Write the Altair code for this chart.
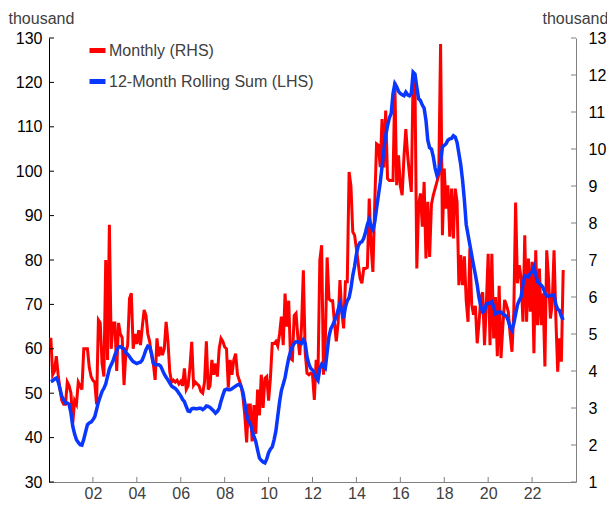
import altair as alt
import pandas as pd

# Monthly values (RHS, thousand), Feb 2000 - Jun 2023
monthly_rhs = [
    4.9, 3.9, 4.0, 4.4, 3.9, 3.5, 3.2, 3.1, 3.1, 3.7, 3.6,                  # 2000 (Feb-Dec)
    3.4, 2.6, 3.2, 3.1, 3.7, 3.6, 3.5, 4.6, 4.6, 4.6, 4.1, 3.85,            # 2001
    3.75, 3.7, 3.1, 5.38, 5.3, 4.2, 3.85, 7.0, 4.3, 7.95, 4.6, 5.3,         # 2002
    5.3, 4.0, 5.3, 5.0, 4.9, 3.62, 4.5, 4.7, 5.96, 6.1, 4.6, 5.0,           # 2003
    4.73, 5.1, 4.7, 5.2, 5.65, 5.5, 5.0, 4.8, 4.43, 4.2, 3.76, 4.88,        # 2004
    4.4, 4.65, 4.43, 4.6, 5.33, 4.8, 3.98, 3.7, 3.75, 3.7, 3.75, 3.65,      # 2005
    3.72, 3.6, 4.07, 3.5, 3.6, 4.1, 4.79, 3.62, 3.7, 3.65, 3.6, 3.45,       # 2006
    3.4, 3.7, 4.8, 3.5, 3.6, 4.3, 3.9, 4.2, 3.85, 4.6, 4.88, 4.8,           # 2007
    4.65, 4.6, 3.55, 4.3, 3.9, 4.3, 4.47, 3.9, 3.75, 3.6, 3.3, 2.8,         # 2008
    2.07, 3.08, 3.08, 2.1, 3.08, 2.3, 3.5, 2.8, 3.9, 3.0, 3.8, 3.85,        # 2009
    3.2, 3.8, 4.74, 4.74, 4.8, 4.68, 5.0, 5.47, 4.7, 6.09, 5.2, 5.9,        # 2010
    4.34, 4.3, 5.5, 5.56, 4.9, 4.43, 5.2, 6.72, 4.5, 3.94, 3.9, 3.94,       # 2011
    3.9, 3.22, 4.3, 3.9, 7.0, 7.4, 3.9, 4.8, 7.07, 5.95, 5.9, 5.9,          # 2012
    5.3, 4.8, 5.3, 6.46, 5.6, 5.15, 6.41, 6.41, 9.38, 9.0, 7.76, 7.67,      # 2013
    7.3, 6.9, 6.5, 6.37, 6.77, 6.77, 6.8, 8.66, 7.4, 6.68, 8.5, 10.14,      # 2014
    10.1, 9.51, 10.81, 9.5, 11.04, 9.2, 9.15, 9.15, 9.15, 11.8, 9.02, 9.83, # 2015
    9.0, 8.75, 9.8, 10.54, 9.83, 9.3, 8.84, 12.03, 11.8, 6.77, 8.5, 8.8,    # 2016
    7.9, 9.11, 7.04, 8.57, 7.08, 8.5, 8.75, 8.93, 9.11, 9.3, 12.84, 7.67,   # 2017
    9.47, 8.39, 9.02, 7.63, 8.93, 7.58, 8.93, 8.57, 6.32, 7.13, 6.32, 7.1,  # 2018
    5.9, 5.33, 7.31, 5.8, 5.52, 5.76, 4.75, 5.3, 6.0, 6.13, 4.7, 5.8,       # 2019
    7.17, 4.7, 7.17, 4.88, 6.0, 4.4, 6.3, 4.35, 5.2, 5.92, 5.78, 5.6,       # 2020
    5.0, 4.52, 5.6, 8.55, 6.37, 6.86, 6.5, 5.33, 7.67, 5.33, 7.04, 5.6,     # 2021
    6.95, 4.48, 7.26, 5.24, 6.77, 5.24, 6.1, 4.12, 7.26, 6.5, 5.42, 5.8,    # 2022
    7.26, 5.42, 3.98, 4.88, 4.25, 6.73,                                     # 2023 (Jan-Jun)
]

# 12-month rolling sum (LHS, thousand), Feb 2000 - Jun 2023
rolling_lhs = [
    52.6, 52.8, 53.2, 53.4, 52.6, 51.0, 49.3, 48.5, 47.8, 47.8, 47.5,
    45.5, 42.5, 40.8, 39.5, 38.9, 38.4, 38.3, 39.6, 41.3, 42.9, 43.3, 43.5,
    44.0, 44.7, 46.3, 48.0, 49.2, 50.4, 51.1, 52.1, 53.8, 55.5, 56.4, 57.3,
    58.6, 59.6, 60.4, 60.5, 60.2, 60.0, 59.1, 58.8, 58.2, 57.6, 57.1, 56.9,
    56.7, 56.9, 57.0, 57.5, 58.6, 59.8, 60.6, 60.4, 59.0, 56.8, 56.4, 56.4,
    56.4, 56.1, 55.2, 54.3, 53.6, 53.0, 52.3, 51.6, 51.3, 51.1, 50.6, 50.0,
    49.4, 48.6, 48.1, 47.0, 46.0, 45.9, 46.5, 46.6, 46.5, 46.5, 46.6, 46.6,
    46.3, 46.6, 47.1, 47.0, 46.8, 46.4, 46.0, 45.5, 45.9, 46.6, 48.2, 49.5,
    50.7, 50.9, 50.8, 50.8, 51.0, 51.3, 51.6, 51.9, 52.0, 51.5, 50.2, 47.8,
    45.2, 43.8, 43.2, 41.6, 40.3, 39.1, 37.2, 35.4, 34.9, 34.5, 34.3, 35.2,
    36.6, 37.4, 37.9, 39.5, 41.5, 44.8, 48.0, 50.6, 52.0, 53.5, 55.8, 57.9,
    59.4, 60.5, 61.2, 61.6, 61.6, 61.4, 61.2, 62.0, 61.3, 58.2, 56.6, 55.6,
    55.2, 54.6, 53.5, 52.9, 55.5, 56.5, 56.0, 55.6, 59.2, 62.8, 64.5, 65.3,
    66.3, 67.3, 68.8, 70.2, 68.5, 66.9, 69.4, 70.8, 71.5, 73.6, 76.5, 78.6,
    81.3, 83.2, 83.9, 84.1, 84.9, 86.3, 88.0, 89.2, 87.5, 86.8, 88.5, 91.6,
    94.5, 97.4, 101.0, 104.8, 108.0, 110.2, 112.0, 113.0, 117.5, 119.7, 119.0, 118.0,
    117.5, 117.2, 117.0, 117.8, 117.2, 117.0, 117.5, 122.3, 121.9, 118.9, 116.3, 115.9,
    114.9, 114.2, 111.5, 107.0, 105.3, 105.0, 103.3, 100.7, 99.1, 99.8, 102.0, 105.5,
    105.8, 106.2, 107.0, 107.3, 107.4, 108.0, 107.7, 106.5, 104.0, 101.5, 98.0, 93.5,
    88.0, 85.7, 83.4, 81.1, 78.8, 76.7, 74.4, 71.5, 69.6, 68.3, 68.5, 70.1,
    70.2, 70.3, 70.6, 69.5, 67.9, 68.1, 68.3, 68.3, 67.8, 67.6, 67.3, 66.3,
    64.8, 64.2, 65.7, 67.8, 69.9, 70.9, 71.7, 74.5, 76.4, 76.3, 76.2, 77.0,
    77.3, 78.5, 76.7, 75.1, 74.7, 74.3, 73.8, 72.6, 71.9, 71.8, 72.0, 72.0,
    72.1, 70.0, 68.9, 68.6, 67.3, 66.5,
]

series_names = ["Monthly (RHS)", "12-Month Rolling Sum (LHS)"]
series_colors = ["#FF0000", "#0A37FF"]
x_tick_years = [2002, 2004, 2006, 2008, 2010, 2012, 2014, 2016, 2018, 2020, 2022]
left_ticks = [30, 40, 50, 60, 70, 80, 90, 100, 110, 120, 130]
right_ticks = [1, 2, 3, 4, 5, 6, 7, 8, 9, 10, 11, 12, 13]

dates = pd.date_range("2000-02-01", periods=len(monthly_rhs), freq="MS")
t = dates.year + (dates.month - 1) / 12.0

df_m = pd.DataFrame({"t": t, "v": monthly_rhs, "s": series_names[0]})
df_r = pd.DataFrame({"t": t, "v": rolling_lhs, "s": series_names[1]})
df_xt = pd.DataFrame({"t": x_tick_years})
df_lt = pd.DataFrame({"v": left_ticks})
df_rt = pd.DataFrame({"v": right_ticks})

W, H = 527, 444
FONT = "Liberation Sans"

x_scale = alt.Scale(domain=[2000, 2024], nice=False, zero=False)
left_scale = alt.Scale(domain=[30, 130], nice=False, zero=False)
right_scale = alt.Scale(domain=[1, 13], nice=False, zero=False)
color_scale = alt.Scale(domain=series_names, range=series_colors)

x_axis = alt.Axis(values=x_tick_years, labelExpr="slice(toString(datum.value), 2)",
                  ticks=False, grid=False, title=None, domainColor="#808080",
                  labelFont=FONT, labelFontSize=16, labelColor="#404040", labelPadding=3)

left_axis = alt.Axis(orient="left", values=left_ticks, ticks=False, grid=False,
                     domainColor="#000000", labelFont=FONT, labelFontSize=16,
                     labelColor="#000000", labelPadding=7,
                     title="thousand", titleAngle=0, titleAlign="left",
                     titleBaseline="middle", titleX=-41, titleY=-20,
                     titleFont=FONT, titleFontSize=16, titleFontWeight="normal",
                     titleColor="#404040")

right_axis = alt.Axis(orient="right", values=right_ticks, ticks=False, grid=False,
                      domainColor="#808080", labelFont=FONT, labelFontSize=16,
                      labelColor="#000000", labelPadding=12,
                      title="thousand", titleAngle=0, titleAlign="left",
                      titleBaseline="middle", titleX=-34, titleY=-20,
                      titleFont=FONT, titleFontSize=16, titleFontWeight="normal",
                      titleColor="#404040")

legend = alt.Legend(orient="none", legendX=38, legendY=2, title=None,
                    symbolType="stroke", symbolStrokeWidth=5, symbolSize=256,
                    labelFont=FONT, labelFontSize=16, labelColor="#404040",
                    labelLimit=400, rowPadding=10, padding=0, labelOffset=1)

red = alt.Chart(df_m).mark_line(strokeWidth=3).encode(
    x=alt.X("t:Q", scale=x_scale, axis=x_axis),
    y=alt.Y("v:Q", scale=right_scale, axis=right_axis),
    color=alt.Color("s:N", scale=color_scale, legend=legend),
)
right_tick_rules = alt.Chart(df_rt).mark_rule(color="#808080", strokeWidth=1).encode(
    y=alt.Y("v:Q", scale=right_scale, axis=None),
    x=alt.value(W), x2=alt.value(W - 5),
)
blue = alt.Chart(df_r).mark_line(strokeWidth=3.5).encode(
    x=alt.X("t:Q", scale=x_scale, axis=x_axis),
    y=alt.Y("v:Q", scale=left_scale, axis=left_axis),
    color=alt.Color("s:N", scale=color_scale, legend=legend),
)
left_tick_rules = alt.Chart(df_lt).mark_rule(color="#000000", strokeWidth=1).encode(
    y=alt.Y("v:Q", scale=left_scale, axis=None),
    x=alt.value(0), x2=alt.value(5),
)
x_tick_rules = alt.Chart(df_xt).mark_rule(color="#808080", strokeWidth=1).encode(
    x=alt.X("t:Q", scale=x_scale, axis=x_axis),
    y=alt.value(H), y2=alt.value(H - 5),
)

chart = alt.layer(
    red, right_tick_rules, blue, left_tick_rules, x_tick_rules
).resolve_scale(y="independent").properties(
    width=W, height=H,
    padding={"left": 41, "top": 30, "right": 31, "bottom": 22},
    autosize=alt.AutoSizeParams(type="none"),
    background="white",
).configure_view(stroke=None)

chart.save("out.html", embed_options={"renderer": "svg", "actions": False})
